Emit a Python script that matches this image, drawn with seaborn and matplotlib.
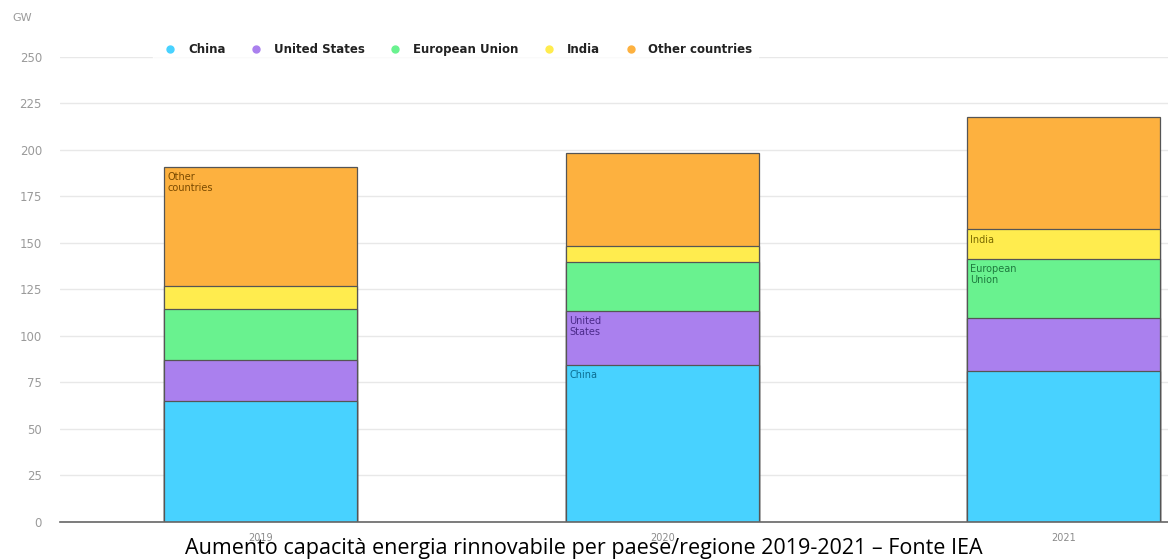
import numpy as np
import pandas as pd
import matplotlib
matplotlib.use("Agg")
import matplotlib.pyplot as plt
from matplotlib.lines import Line2D
import seaborn as sns

####################################################################################
## DATA (GW)
####################################################################################
years = ["2019", "2020", "2021"]
regions = ["China", "United States", "European Union", "India", "Other countries"]

china = [65.0, 84.5, 81.0]
united_states = [22.0, 29.0, 28.5]
european_union = [27.5, 26.5, 32.0]
india = [12.5, 8.5, 16.0]
other_countries = [64.0, 50.0, 60.0]

colors = ["#48D2FF", "#AA80EE", "#69F28F", "#FFEC4E", "#FDB13F"]
text_colors = ["#0B6E93", "#4B2A8A", "#1E7A3E", "#7A6A00", "#7A4A00"]

df = pd.DataFrame({
    "year": years,
    "China": china,
    "United States": united_states,
    "European Union": european_union,
    "India": india,
    "Other countries": other_countries,
})

# running totals so the bars can be layered (tallest first)
cum = df[regions].cumsum(axis=1)

####################################################################################
## Viz
####################################################################################
sns.set_theme(style="white")
plt.rcParams["font.family"] = ["DejaVu Sans"]

fig = plt.figure(figsize=(11.68, 5.59), dpi=100)
ax = fig.add_axes([0.0514, 0.0662, 0.9486, 0.832])

for i in reversed(range(len(regions))):
    sns.barplot(
        x=df["year"], y=cum[regions[i]],
        color=colors[i], saturation=1, width=0.48,
        edgecolor="#555555", linewidth=0.9, ax=ax,
    )

ax.set_xlim(-0.5, 2.26)
ax.set_ylim(0, 250)
ax.set_yticks(np.arange(0, 251, 25))
ax.yaxis.grid(True, color="#e8e8e8", linewidth=1)
ax.set_axisbelow(True)
for s in ["top", "right", "left"]:
    ax.spines[s].set_visible(False)
ax.spines["bottom"].set_color("#666666")
ax.spines["bottom"].set_linewidth(1.2)

ax.set_xlabel("")
ax.set_ylabel("")
ax.tick_params(axis="y", length=0, labelsize=8.5, labelcolor="#9a9a9a", pad=13)
ax.tick_params(axis="x", length=0, labelsize=7, labelcolor="#8a8a8a", pad=8)
ax.set_xticks([0.5, 1.5], minor=True)
ax.tick_params(axis="x", which="minor", length=8, width=1, color="#666666", direction="out")

fig.text(0.011, 0.962, "GW", fontsize=8, color="#9a9a9a")

# labels inside the segments
def seg_label(xpos, region, text):
    k = regions.index(region)
    top = cum[region][xpos]
    ax.text(xpos - 0.232, top - 3, text, fontsize=7, color=text_colors[k],
            va="top", ha="left", linespacing=1.1)

seg_label(0, "Other countries", "Other\ncountries")
seg_label(1, "United States", "United\nStates")
seg_label(1, "China", "China")
seg_label(2, "India", "India")
seg_label(2, "European Union", "European\nUnion")

handles = [Line2D([0], [0], marker="o", linestyle="", markersize=5,
                  markerfacecolor=c, markeredgecolor=c) for c in colors]
leg = fig.legend(handles, regions, loc="center", bbox_to_anchor=(0.39, 0.912),
                 ncol=5, frameon=True, fontsize=8.5, handletextpad=0.5,
                 columnspacing=1.6, borderpad=0.5)
leg.get_frame().set_facecolor("white")
leg.get_frame().set_edgecolor("white")
for t in leg.get_texts():
    t.set_color("#222222")
    t.set_fontweight("semibold")

fig.text(0.5, 0.018, "Aumento capacità energia rinnovabile per paese/regione 2019-2021 – Fonte IEA",
         ha="center", va="center", fontsize=15.5, color="black", family=["Open Sans", "DejaVu Sans"],
         zorder=10)

fig.savefig("out.png", dpi=100)
